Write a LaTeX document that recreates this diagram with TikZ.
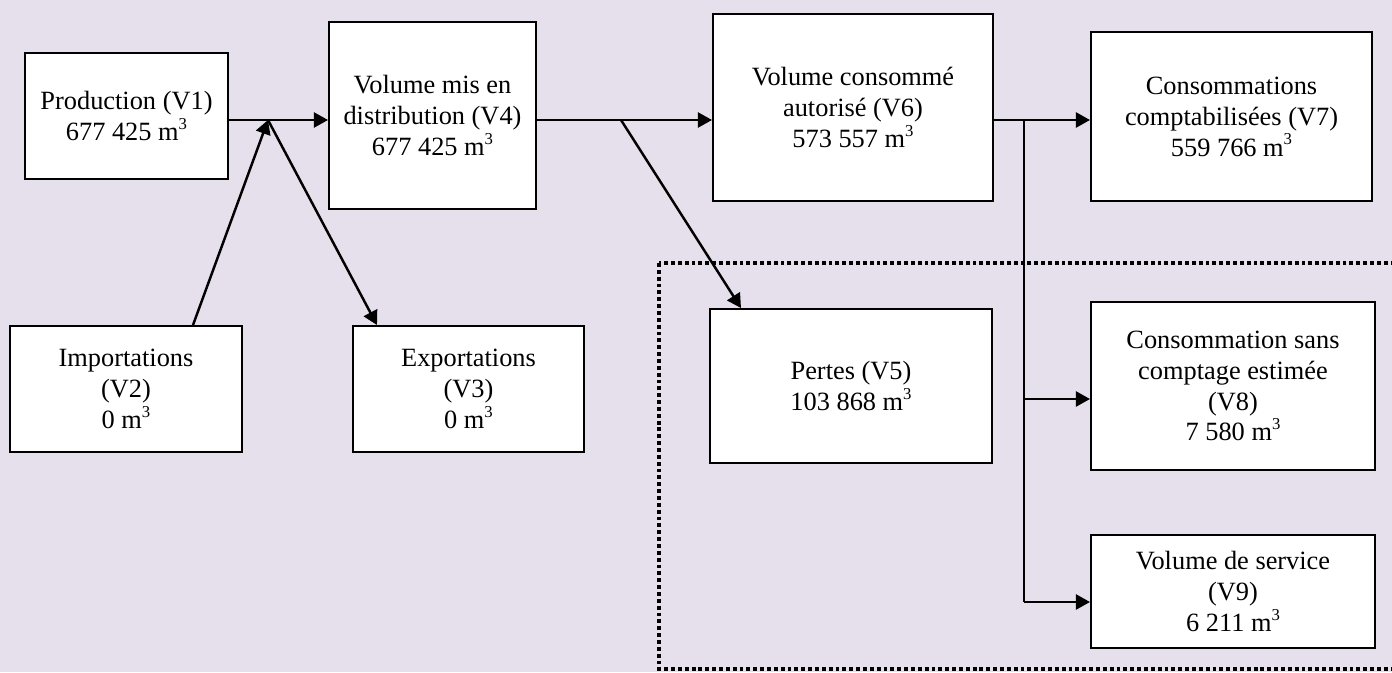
\documentclass[tikz,border=0pt]{standalone}
\usepackage{fontspec}
\setmainfont{Liberation Serif}
\usetikzlibrary{arrows.meta}
\definecolor{lavender}{HTML}{E5E0EC}
\newcommand{\mcube}{m\raisebox{0.42em}{\fontsize{9.5}{9.5}\selectfont 3}}

\begin{document}
\begin{tikzpicture}[scale=0.2]
      \tikzstyle{every node}+=[inner sep=0pt]
      \tikzstyle{vbox}=[draw=black, fill=white, line width=1.1pt, align=center, font=\fontsize{15}{17.6}\selectfont]
      \tikzstyle{flow}=[line width=1.4pt, -{Triangle[length=8pt,width=8.5pt]}]
      \clip (0,0) rectangle (139.2,-67.2);
      \fill [lavender] (0,0) rectangle (139.2,-67.2);
      \draw [black, line width=2.3pt, dash pattern=on 2.2pt off 1.7pt] (65.9,-26.3) rectangle (145,-66.9);
      \node [vbox, minimum width=4.06cm, minimum height=2.52cm] (v1) at (12.65,-11.6) {Production (V1)\\677~425 \mcube};
      \node [vbox, minimum width=4.14cm, minimum height=3.74cm] (v4) at (43.25,-11.55) {Volume mis en\\distribution (V4)\\677~425 \mcube};
      \node [vbox, minimum width=5.6cm, minimum height=3.74cm] (v6) at (85.3,-10.75) {Volume consommé\\autorisé (V6)\\573~557 \mcube};
      \node [vbox, minimum width=5.62cm, minimum height=3.38cm] (v7) at (123.15,-11.65) {Consommations\\comptabilisées (V7)\\559~766 \mcube};
      \node [vbox, minimum width=4.64cm, minimum height=2.52cm] (v2) at (12.6,-38.9) {Importations\\(V2)\\0 \mcube};
      \node [vbox, minimum width=4.62cm, minimum height=2.52cm] (v3) at (46.85,-38.9) {Exportations\\(V3)\\0 \mcube};
      \node [vbox, minimum width=5.64cm, minimum height=3.08cm] (v5) at (85.1,-38.6) {Pertes (V5)\\103~868 \mcube};
      \node [vbox, minimum width=5.68cm, minimum height=3.36cm] (v8) at (123.3,-38.6) {Consommation sans\\comptage estimée\\(V8)\\7~580 \mcube};
      \node [vbox, minimum width=5.68cm, minimum height=2.26cm] (v9) at (123.3,-59.15) {Volume de service\\(V9)\\6~211 \mcube};
      \coordinate (j1) at (26.8,-12);
      \coordinate (j2) at (62.1,-12);
      \coordinate (j3) at (102.4,-12);
      \coordinate (b8) at (102.4,-39.9);
      \coordinate (b9) at (102.4,-60.2);
      \draw [flow] (v1.east |- j1) -- (v4.west |- j1);
      \draw [flow] ([xshift=6.7cm]v2.north) -- (j1);
      \draw [flow] (j1) -- ([xshift=-9.15cm]v3.north);
      \draw [flow] (v4.east |- j2) -- (v6.west |- j2);
      \draw [flow] (j2) -- ([xshift=-11cm]v5.north);
      \draw [flow] (v6.east |- j3) -- (v7.west |- j3);
      \draw [black, line width=1.1pt] (j3) -- (b9);
      \draw [flow] (b8) -- (v8.west |- b8);
      \draw [flow] (b9) -- (v9.west |- b9);
      \end{tikzpicture}
\end{document}
